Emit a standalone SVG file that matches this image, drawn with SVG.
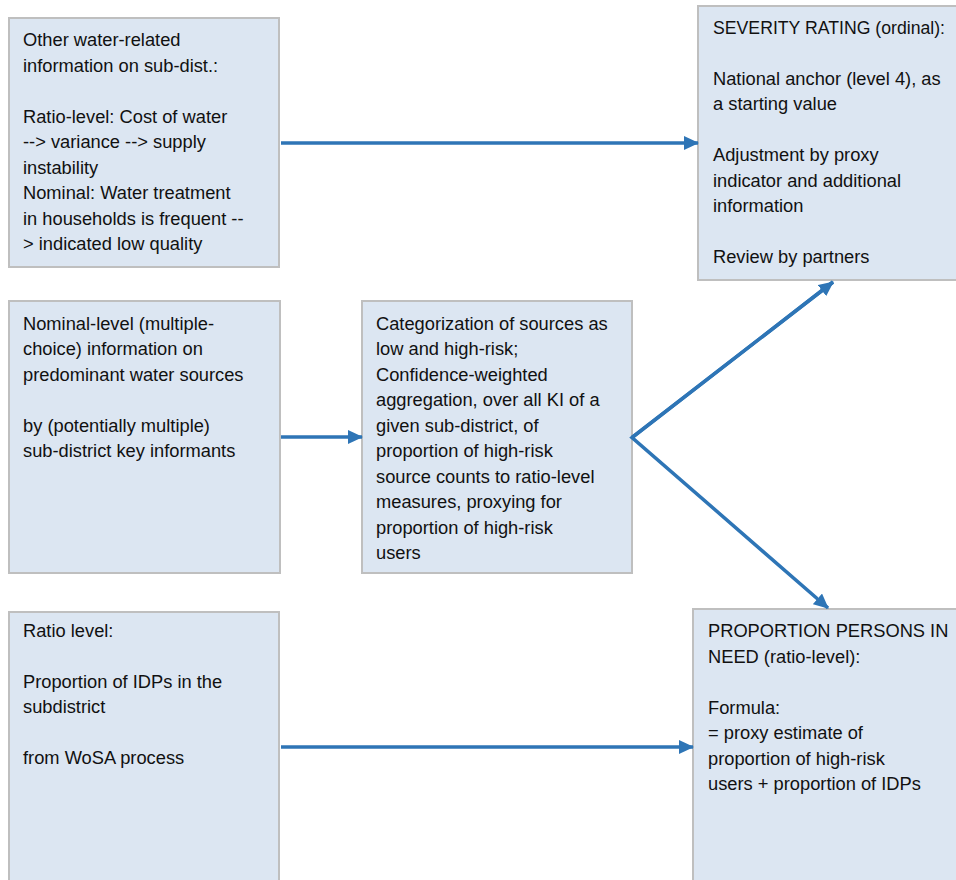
<svg xmlns="http://www.w3.org/2000/svg" width="956" height="880" viewBox="0 0 956 880">
<defs>
<marker id="ah" markerUnits="userSpaceOnUse" markerWidth="16" markerHeight="14" refX="14" refY="7" orient="auto">
<path d="M0,0 L15,7 L0,14 Z" fill="#2e75b6"/>
</marker>
<style>
.box{fill:#dce6f2;stroke:#bfbfbf;stroke-width:2}
.t{font-family:"Liberation Sans",Arial,sans-serif;font-size:18.3px;fill:#111111}
.c{fill:none;stroke:#2e75b6;stroke-width:3.5}
</style>
</defs>
<rect width="956" height="880" fill="#ffffff"/>
<g id="other-info">
<rect class="box" x="9" y="18" width="270" height="249"/>
<text class="t">
<tspan x="23" y="46">Other water-related</tspan>
<tspan x="23" y="71.5">information on sub-dist.:</tspan>
<tspan x="23" y="122.5">Ratio-level: Cost of water</tspan>
<tspan x="23" y="148">--&gt; variance --&gt; supply</tspan>
<tspan x="23" y="173.5">instability</tspan>
<tspan x="23" y="199">Nominal: Water treatment</tspan>
<tspan x="23" y="224.5">in households is frequent --</tspan>
<tspan x="23" y="250">&gt; indicated low quality</tspan>
</text>
</g>
<g id="severity">
<rect class="box" x="698" y="6" width="270" height="274"/>
<text class="t">
<tspan x="713" y="33.5" textLength="232" lengthAdjust="spacingAndGlyphs">SEVERITY RATING (ordinal):</tspan>
<tspan x="713" y="84.5">National anchor (level 4), as</tspan>
<tspan x="713" y="110">a starting value</tspan>
<tspan x="713" y="161">Adjustment by proxy</tspan>
<tspan x="713" y="186.5">indicator and additional</tspan>
<tspan x="713" y="212">information</tspan>
<tspan x="713" y="263">Review by partners</tspan>
</text>
</g>
<g id="nominal">
<rect class="box" x="9" y="301" width="271" height="272"/>
<text class="t">
<tspan x="23" y="329.5">Nominal-level (multiple-</tspan>
<tspan x="23" y="355">choice) information on</tspan>
<tspan x="23" y="380.5">predominant water sources</tspan>
<tspan x="23" y="431.5">by (potentially multiple)</tspan>
<tspan x="23" y="457">sub-district key informants</tspan>
</text>
</g>
<g id="categorization">
<rect class="box" x="362" y="301" width="270" height="272"/>
<text class="t">
<tspan x="376" y="329.5">Categorization of sources as</tspan>
<tspan x="376" y="355">low and high-risk;</tspan>
<tspan x="376" y="380.5">Confidence-weighted</tspan>
<tspan x="376" y="406">aggregation, over all KI of a</tspan>
<tspan x="376" y="431.5">given sub-district, of</tspan>
<tspan x="376" y="457">proportion of high-risk</tspan>
<tspan x="376" y="482.5">source counts to ratio-level</tspan>
<tspan x="376" y="508">measures, proxying for</tspan>
<tspan x="376" y="533.5">proportion of high-risk</tspan>
<tspan x="376" y="559">users</tspan>
</text>
</g>
<g id="ratio">
<rect class="box" x="9" y="612" width="270" height="280"/>
<text class="t">
<tspan x="23" y="636.5">Ratio level:</tspan>
<tspan x="23" y="687.5">Proportion of IDPs in the</tspan>
<tspan x="23" y="713">subdistrict</tspan>
<tspan x="23" y="764">from WoSA process</tspan>
</text>
</g>
<g id="pin">
<rect class="box" x="693" y="609" width="275" height="283"/>
<text class="t">
<tspan x="708" y="637">PROPORTION PERSONS IN</tspan>
<tspan x="708" y="662.5">NEED (ratio-level):</tspan>
<tspan x="708" y="713.5">Formula:</tspan>
<tspan x="708" y="739">= proxy estimate of</tspan>
<tspan x="708" y="764.5">proportion of high-risk</tspan>
<tspan x="708" y="790">users + proportion of IDPs</tspan>
</text>
</g>
<g id="connectors">
<line class="c" x1="281" y1="143" x2="698" y2="143" marker-end="url(#ah)"/>
<line class="c" x1="281" y1="437" x2="362" y2="437" marker-end="url(#ah)"/>
<line class="c" x1="281" y1="747" x2="693" y2="747" marker-end="url(#ah)"/>
<polyline class="c" points="833,282 632,437.5 828,608" stroke-linejoin="miter" marker-end="url(#ah)"/>
<line class="c" x1="632" y1="437.5" x2="833" y2="282" marker-end="url(#ah)"/>
</g>
</svg>
